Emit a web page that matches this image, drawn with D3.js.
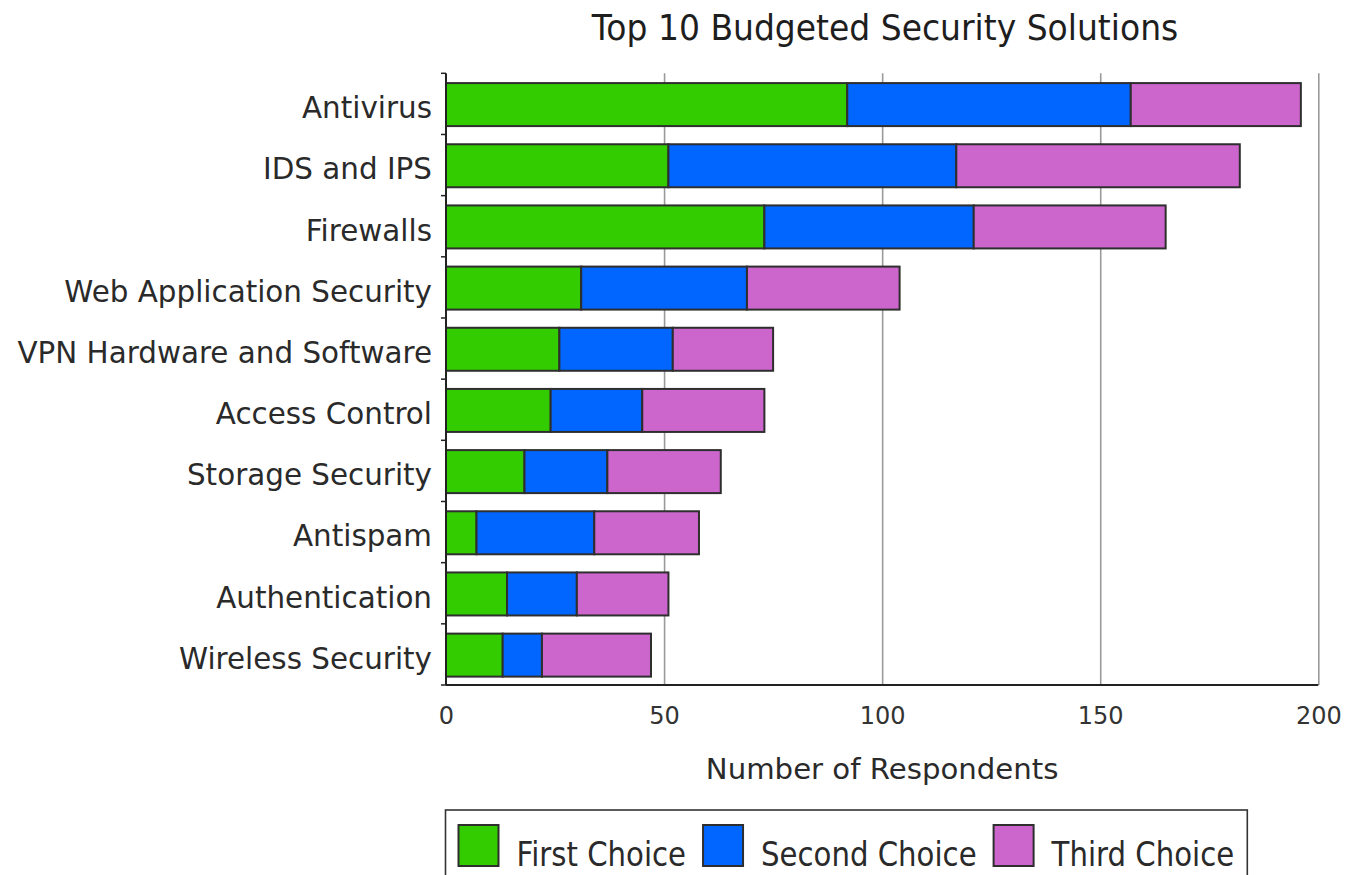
<!DOCTYPE html>
<html>
<head>
<meta charset="utf-8">
<script src="https://cdn.jsdelivr.net/npm/d3@7"></script>
<style>
  body { margin: 0; background: #ffffff; }
  svg text { font-family: "DejaVu Sans", "Noto Sans", sans-serif; }
</style>
</head>
<body>
<svg id="chart" width="1355" height="875"></svg>
<script>
// ---- Data ----
const categories = ["Antivirus", "IDS and IPS", "Firewalls", "Web Application Security",
  "VPN Hardware and Software", "Access Control", "Storage Security", "Antispam",
  "Authentication", "Wireless Security"];
const firstChoice  = [92, 51, 73, 31, 26, 24, 18, 7, 14, 13];
const secondChoice = [65, 66, 48, 38, 26, 21, 19, 27, 16, 9];
const thirdChoice  = [39, 65, 44, 35, 23, 28, 26, 24, 21, 25];
const seriesNames  = ["First Choice", "Second Choice", "Third Choice"];
const seriesColors = ["#33cc00", "#0066ff", "#cc66cc"];
const xTicks = [0, 50, 100, 150, 200];
const titleText = "Top 10 Budgeted Security Solutions";
const xAxisTitle = "Number of Respondents";

// ---- Layout ----
const svg = d3.select("#chart");
const plot = { left: 446, right: 1318.3, top: 73.3, bottom: 685 };

const x = d3.scaleLinear().domain([0, 200]).range([plot.left, plot.right]);
const y = d3.scaleBand().domain(categories).range([plot.top, plot.bottom]).padding(0);
const barFrac = 0.703;
const barOffset = 0.16;

const table = categories.map((c, i) => ({
  category: c,
  [seriesNames[0]]: firstChoice[i],
  [seriesNames[1]]: secondChoice[i],
  [seriesNames[2]]: thirdChoice[i]
}));
const stacked = d3.stack().keys(seriesNames)(table);
const color = d3.scaleOrdinal().domain(seriesNames).range(seriesColors);

// Title
svg.append("text")
  .attr("transform", "translate(885,40) scale(1,1.08)")
  .attr("text-anchor", "middle")
  .attr("font-size", 33)
  .attr("fill", "#1e1e1e")
  .text(titleText);

// Gridlines
const grid = svg.append("g")
  .attr("transform", `translate(0,${plot.bottom})`)
  .call(d3.axisBottom(x).tickValues(xTicks.slice(1)).tickSize(-(plot.bottom - plot.top)).tickFormat(""));
grid.select(".domain").remove();
grid.selectAll(".tick line").attr("stroke", "#9a9a9a").attr("stroke-width", 1.6);

// Bars
svg.append("g").selectAll("g")
  .data(stacked)
  .join("g")
  .attr("fill", d => color(d.key))
  .selectAll("rect")
  .data(d => d)
  .join("rect")
  .attr("x", d => x(d[0]))
  .attr("y", d => y(d.data.category) + y.step() * barOffset)
  .attr("width", d => x(d[1]) - x(d[0]))
  .attr("height", y.step() * barFrac)
  .attr("stroke", "#2e2e2e")
  .attr("stroke-width", 2);

// X axis labels
const xAxis = svg.append("g")
  .attr("transform", `translate(0,${plot.bottom})`)
  .call(d3.axisBottom(x).tickValues(xTicks).tickSize(0).tickPadding(22));
xAxis.select(".domain").remove();
xAxis.selectAll("text").attr("font-size", 24).attr("fill", "#333")
  .attr("font-family", "DejaVu Sans, sans-serif");

// Axis lines
svg.append("line")
  .attr("x1", plot.left).attr("x2", plot.right)
  .attr("y1", plot.bottom).attr("y2", plot.bottom)
  .attr("stroke", "#222").attr("stroke-width", 2);
svg.append("line")
  .attr("x1", plot.left).attr("x2", plot.left)
  .attr("y1", plot.top).attr("y2", plot.bottom)
  .attr("stroke", "#222").attr("stroke-width", 2);

// Left band-boundary ticks
const boundaries = d3.range(categories.length + 1).map(i => plot.top + i * y.step());
svg.append("g").selectAll("line")
  .data(boundaries)
  .join("line")
  .attr("x1", plot.left - 5).attr("x2", plot.left)
  .attr("y1", d => d).attr("y2", d => d)
  .attr("stroke", "#222").attr("stroke-width", 1.5);

// Y axis labels
const yAxis = svg.append("g")
  .attr("transform", `translate(${plot.left},0)`)
  .call(d3.axisLeft(y).tickSize(0).tickPadding(14));
yAxis.select(".domain").remove();
yAxis.selectAll("text").attr("font-size", 29.4).attr("fill", "#2a2a2a")
  .attr("dy", "0.49em")
  .attr("font-family", "DejaVu Sans, sans-serif");

// X axis title
svg.append("text")
  .attr("x", (plot.left + plot.right) / 2).attr("y", 779)
  .attr("text-anchor", "middle")
  .attr("font-size", 29.2)
  .attr("fill", "#2a2a2a")
  .text(xAxisTitle);

// Legend
const legend = svg.append("g");
legend.append("rect")
  .attr("x", 445.5).attr("y", 810)
  .attr("width", 1247.3 - 445.5).attr("height", 100)
  .attr("fill", "none").attr("stroke", "#333").attr("stroke-width", 1.6);

let lx = 458.5;
seriesNames.forEach((name, i) => {
  legend.append("rect")
    .attr("x", lx).attr("y", 825)
    .attr("width", 40).attr("height", 41)
    .attr("fill", seriesColors[i])
    .attr("stroke", "#2e2e2e").attr("stroke-width", 2);
  const tx = lx + 58;
  const t = legend.append("text")
    .attr("transform", `translate(${tx},866) scale(1,1.18)`)
    .attr("font-size", 29.2)
    .attr("fill", "#2a2a2a")
    .text(name);
  const w = t.node().getComputedTextLength();
  lx = tx + w + 17;
});
</script>
</body>
</html>
